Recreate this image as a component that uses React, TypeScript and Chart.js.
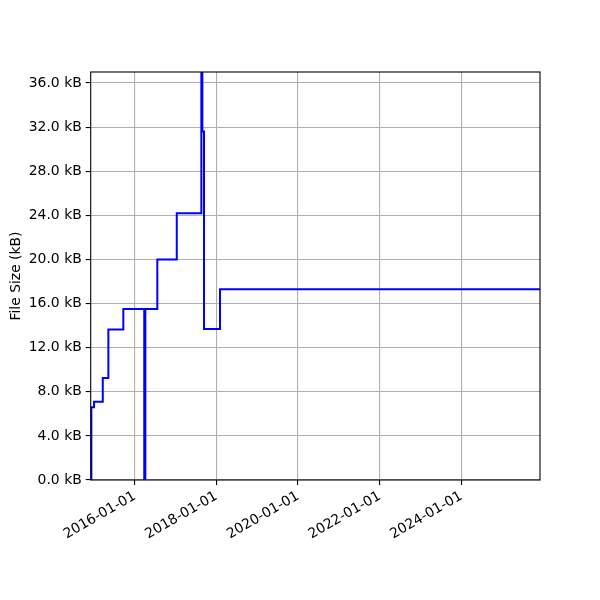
import React, { useEffect, useRef } from 'react';
import { Chart, registerables } from 'chart.js';

Chart.register(...registerables);

// Dates at which the file size changed (step-post)
const changeDates = [
  '2014-12-03', '2014-12-09', '2015-01-02', '2015-03-21', '2015-05-10',
  '2015-09-21', '2016-03-26', '2016-04-05', '2016-07-21', '2017-01-11',
  '2017-08-19', '2017-08-28', '2017-09-12', '2018-02-02', '2025-12-05',
];
// File size in kB at each change date
const sizesKB = [
  0, 6.6, 7.1, 9.25, 13.65,
  15.5, 0, 15.5, 20.0, 24.2,
  45, 31.6, 13.7, 17.3, 17.3,
];
const xTickDates = ['2016-01-01', '2018-01-01', '2020-01-01', '2022-01-01', '2024-01-01'];
const yTicksKB = [0, 4, 8, 12, 16, 20, 24, 28, 32, 36];
const xRange = ['2014-12-03', '2025-12-05'];
const yMaxKB = 37;

const FONT = 'DejaVu Sans';

const framePlugin = {
  id: 'frame',
  afterDraw(chart: any) {
    const { ctx, chartArea } = chart;
    const { left, top, right, bottom } = chartArea;
    ctx.save();
    ctx.strokeStyle = '#000';
    ctx.lineWidth = 1.1;
    ctx.strokeRect(left, top, right - left, bottom - top);
    ctx.restore();
  },
};

export default function App() {
  const ref = useRef<HTMLCanvasElement | null>(null);

  useEffect(() => {
    if (!ref.current) return;
    const data = changeDates.map((d, i) => ({ x: Date.parse(d), y: sizesKB[i] }));
    const chart = new Chart(ref.current, {
      type: 'line',
      data: {
        datasets: [
          {
            data,
            borderColor: '#0000ff',
            borderWidth: 2,
            pointRadius: 0,
            stepped: 'before',
            fill: false,
            clip: 0,
          } as any,
        ],
      },
      options: {
        responsive: false,
        animation: false,
        events: [],
        layout: { padding: { left: 0, right: 60, top: 72, bottom: 0 } },
        plugins: { legend: { display: false }, tooltip: { enabled: false } },
        scales: {
          x: {
            type: 'linear',
            min: Date.parse(xRange[0]),
            max: Date.parse(xRange[1]),
            afterBuildTicks: (scale: any) => {
              scale.ticks = xTickDates.map((d) => ({ value: Date.parse(d) }));
            },
            afterFit: (scale: any) => {
              scale.height = 120;
            },
            border: { display: false },
            grid: {
              color: '#b0b0b0',
              lineWidth: 1.1,
              tickColor: '#000',
              tickLength: 5,
              tickWidth: 1.1,
            },
            ticks: {
              autoSkip: false,
              maxRotation: 30,
              minRotation: 30,
              padding: 3,
              color: '#000',
              font: { family: FONT, size: 13.9 },
              callback: (v: any) => new Date(Number(v)).toISOString().slice(0, 10),
            },
          },
          y: {
            type: 'linear',
            min: 0,
            max: yMaxKB,
            afterBuildTicks: (scale: any) => {
              scale.ticks = yTicksKB.map((v) => ({ value: v }));
            },
            afterFit: (scale: any) => {
              scale.width = 90.7;
            },
            border: { display: false },
            grid: {
              color: '#b0b0b0',
              lineWidth: 1.1,
              tickColor: '#000',
              tickLength: 5,
              tickWidth: 1.1,
            },
            ticks: {
              padding: 4,
              color: '#000',
              font: { family: FONT, size: 13.9 },
              callback: (v: any) => `${Number(v).toFixed(1)} kB`,
            },
            title: {
              display: true,
              text: 'File Size (kB)',
              color: '#000',
              font: { family: FONT, size: 13.9 },
              padding: { top: 8.5, bottom: 0 },
            },
          },
        },
      },
      plugins: [framePlugin],
    });
    return () => chart.destroy();
  }, []);

  return (
    <div style={{ position: 'absolute', left: 0, top: 0, width: 600, height: 600, background: '#fff' }}>
      <canvas ref={ref} width={600} height={600} style={{ width: 600, height: 600 }} />
    </div>
  );
}
